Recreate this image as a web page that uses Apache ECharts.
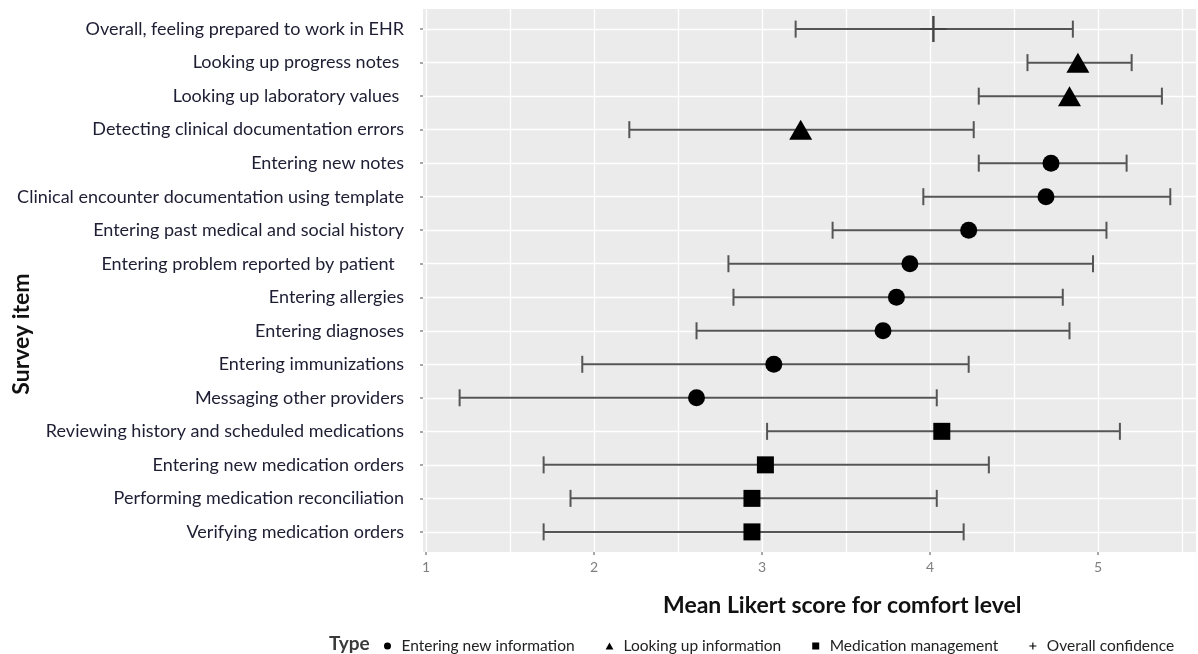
<!DOCTYPE html>
<html>
<head>
<meta charset="utf-8">
<script src="https://cdn.jsdelivr.net/npm/echarts@6/dist/echarts.min.js"></script>
<style>html,body{margin:0;padding:0;background:#fff}#c{width:1198px;height:654px}</style>
</head>
<body>
<div id="c"></div>
<script>
const items = [
  "Overall, feeling prepared to work in EHR",
  "Looking up progress notes ",
  "Looking up laboratory values ",
  "Detecting clinical documentation errors",
  "Entering new notes",
  "Clinical encounter documentation using template",
  "Entering past medical and social history",
  "Entering problem reported by patient  ",
  "Entering allergies",
  "Entering diagnoses",
  "Entering immunizations",
  "Messaging other providers",
  "Reviewing history and scheduled medications",
  "Entering new medication orders",
  "Performing medication reconciliation",
  "Verifying medication orders"
];
const itemType = [
  "Overall confidence",
  "Looking up information","Looking up information","Looking up information",
  "Entering new information","Entering new information","Entering new information","Entering new information",
  "Entering new information","Entering new information","Entering new information","Entering new information",
  "Medication management","Medication management","Medication management","Medication management"
];
const lowValues  = [3.20, 4.58, 4.29, 2.21, 4.29, 3.96, 3.42, 2.80, 2.83, 2.61, 1.93, 1.20, 3.03, 1.70, 1.86, 1.70];
const meanValues = [4.02, 4.88, 4.83, 3.23, 4.72, 4.69, 4.23, 3.88, 3.80, 3.72, 3.07, 2.61, 4.07, 3.02, 2.94, 2.94];
const highValues = [4.85, 5.20, 5.38, 4.26, 5.17, 5.43, 5.05, 4.97, 4.79, 4.83, 4.23, 4.04, 5.13, 4.35, 4.04, 4.20];
const typeNames = ["Entering new information", "Looking up information", "Medication management", "Overall confidence"];
const xTickLabels = [1, 2, 3, 4, 5];
const xGridValues = [1, 1.5, 2, 2.5, 3, 3.5, 4, 4.5, 5, 5.5];

const plusPath = 'path://M11.8,0h2.4v26h-2.4z M0,12h26v2h-26z';
const typeSymbols = {
  "Entering new information": {symbol: 'circle', size: 17, legendIcon: 'path://M5,0A5,5,0,1,1,4.99,0z', color: '#000'},
  "Looking up information": {symbol: 'triangle', size: [23, 20], legendIcon: 'path://M5,0L10,9L0,9z', color: '#000'},
  "Medication management": {symbol: 'rect', size: 17, legendIcon: 'path://M0,0h10v10h-10z', color: '#000'},
  "Overall confidence": {symbol: plusPath, size: 26, legendIcon: 'path://M4.2,0h1.6v10h-1.6z M0,4.2h10v1.6h-10z', color: '#444'}
};

const chart = echarts.init(document.getElementById('c'), null, {renderer: 'canvas'});
const yIdx = items.map((_, i) => i);

const errData = items.map((_, i) => [lowValues[i], highValues[i], i]);

const scatterSeries = typeNames.map(t => ({
  name: t,
  type: 'scatter',
  symbol: typeSymbols[t].symbol,
  symbolSize: typeSymbols[t].size,
  itemStyle: {color: typeSymbols[t].color, opacity: 1},
  z: 5,
  data: items.map((_, i) => i).filter(i => itemType[i] === t).map(i => [meanValues[i], i])
}));

const option = {
  animation: false,
  backgroundColor: '#ffffff',
  textStyle: {fontFamily: 'Lato'},
  title: [
    {text: 'Type', left: 324, top: 629, textStyle: {fontFamily: 'Lato', fontSize: 19, fontWeight: 'bold', color: '#3a3a3a'}},
    {text: 'Mean Likert score for comfort level', left: 658, top: 589, textStyle: {fontFamily: 'Lato', fontSize: 23, fontWeight: 'bold', color: '#111'}}
  ],
  graphic: [
    {type: 'text', x: 22, y: 334, rotation: Math.PI / 2,
     style: {text: 'Survey item', fontFamily: 'Lato', fontSize: 23, fontWeight: 'bold', fill: '#111', align: 'center', verticalAlign: 'middle'}}
  ],
  legend: {
    left: 379, top: 633,
    itemWidth: 18, itemHeight: 7, itemGap: 31,
    symbolKeepAspect: true,
    textStyle: {fontFamily: 'Lato', fontSize: 15.5, color: '#222'},
    data: typeNames.map(t => ({name: t, icon: typeSymbols[t].legendIcon, itemStyle: {color: '#000'}}))
  },
  grid: {left: 423, top: 9, right: 2, bottom: 102, show: true, backgroundColor: '#ebebeb', borderWidth: 0},
  xAxis: [
    {
      type: 'value', min: 0.982, max: 5.583,
      axisLine: {show: false},
      axisTick: {show: false, customValues: xGridValues},
      axisLabel: {show: false},
      splitLine: {show: true, lineStyle: {color: '#ffffff', width: 1.3}}
    },
    {
      type: 'value', min: 0.982, max: 5.583, position: 'bottom',
      axisLine: {show: false},
      axisTick: {show: true, length: 3, customValues: xTickLabels, lineStyle: {color: '#8a8a8a', width: 1.5}},
      axisLabel: {show: true, customValues: xTickLabels, margin: 8, fontFamily: 'Lato', fontSize: 14, color: '#7f7f7f'},
      splitLine: {show: false}
    }
  ],
  yAxis: {
    type: 'value', min: -0.6, max: 15.6, inverse: true,
    axisLine: {show: false},
    axisTick: {show: true, length: 3, customValues: yIdx, lineStyle: {color: '#8a8a8a', width: 1.5}},
    axisLabel: {show: true, customValues: yIdx, margin: 19, fontFamily: 'Lato', fontSize: 18, color: '#1d1d33',
      formatter: v => items[Math.round(v)]},
    splitLine: {show: true, lineStyle: {color: '#ffffff', width: 1.3}}
  },
  series: [
    {
      type: 'custom',
      name: 'errorbars',
      xAxisIndex: 0, yAxisIndex: 0,
      z: 3,
      encode: {x: [0, 1], y: 2},
      data: errData,
      renderItem: function (params, api) {
        const lo = api.coord([api.value(0), api.value(2)]);
        const hi = api.coord([api.value(1), api.value(2)]);
        const h = 8.5;
        const style = {stroke: '#555555', lineWidth: 2};
        return {
          type: 'group',
          children: [
            {type: 'line', shape: {x1: lo[0], y1: lo[1], x2: hi[0], y2: hi[1]}, style: style},
            {type: 'line', shape: {x1: lo[0], y1: lo[1] - h, x2: lo[0], y2: lo[1] + h}, style: style},
            {type: 'line', shape: {x1: hi[0], y1: hi[1] - h, x2: hi[0], y2: hi[1] + h}, style: style}
          ]
        };
      }
    }
  ].concat(scatterSeries)
};
chart.setOption(option);
</script>
</body>
</html>
